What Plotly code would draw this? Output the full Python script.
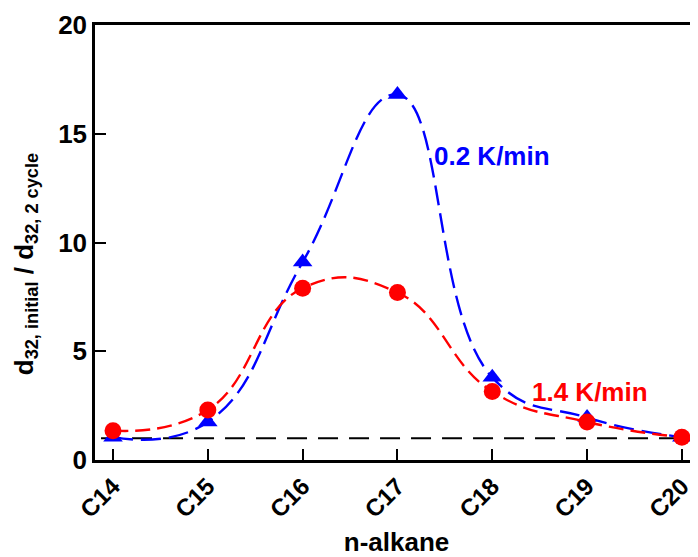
import plotly.graph_objects as go

alkanes = ["C14", "C15", "C16", "C17", "C18", "C19", "C20"]
slow_rate = [1.05, 1.75, 9.1, 16.8, 3.8, 1.95, 1.05]   # 0.2 K/min
fast_rate = [1.35, 2.3, 7.9, 7.7, 3.15, 1.75, 1.05]    # 1.4 K/min
ref_level = 1.0

FONT = "Liberation Sans, Arial, sans-serif"

fig = go.Figure()
fig.add_trace(go.Scatter(
    x=alkanes, y=slow_rate, mode="lines+markers",
    line=dict(color="#0000ff", width=2.4, dash="20px,8px", shape="spline", smoothing=1.3),
    marker=dict(symbol="triangle-up", size=17, color="#0000ff"),
    showlegend=False, cliponaxis=False))
fig.add_trace(go.Scatter(
    x=alkanes, y=fast_rate, mode="lines+markers",
    line=dict(color="#ff0000", width=2.4, dash="15px,7px", shape="spline", smoothing=1.3),
    marker=dict(symbol="circle", size=17, color="#ff0000"),
    showlegend=False, cliponaxis=False))

fig.add_shape(type="line", xref="paper", yref="y", x0=0.01, x1=1, y0=ref_level, y1=ref_level,
              line=dict(color="black", width=2, dash="20px,11px"), layer="below")

fig.add_annotation(x=4.0, y=14.0, xref="x", yref="y", text="<b>0.2 K/min</b>",
                   showarrow=False, font=dict(family=FONT, size=26, color="#0000ff"))
fig.add_annotation(x=5.03, y=3.13, xref="x", yref="y", text="<b>1.4 K/min</b>",
                   showarrow=False, font=dict(family=FONT, size=26, color="#ff0000"))

# y-axis title as a rotated annotation (sits slightly below the plot's centre)
fig.add_annotation(xref="paper", yref="paper", x=0, y=0.45, xshift=-70,
                   xanchor="center", yanchor="middle", textangle=-90, showarrow=False,
                   text="<b>d<sub>32, initial</sub> / d<sub>32, 2 cycle</sub></b>",
                   font=dict(family=FONT, size=26, color="black"))

# the page adds an 8px body margin, so the figure is sized/margined to compensate
fig.update_layout(
    width=690, height=549,
    margin=dict(l=87, r=0, t=17, b=97),
    plot_bgcolor="white", paper_bgcolor="white",
    font=dict(family=FONT, size=24, color="black"),
)
fig.update_xaxes(
    type="category", range=[-0.19, 6.17], automargin=False,
    showline=True, linecolor="black", linewidth=2.5, mirror=True,
    ticks="inside", ticklen=11, tickwidth=2, tickcolor="black",
    tickangle=-45, tickfont=dict(family=FONT, size=24, color="black"),
    tickvals=alkanes, ticktext=[f"<b>{a}</b>" for a in alkanes],
    showgrid=False, zeroline=False,
    title=dict(text="<b>n-alkane</b>", font=dict(family=FONT, size=26), standoff=18),
)
fig.update_yaxes(
    range=[0, 20], tickvals=[0, 5, 10, 15, 20], automargin=False,
    ticktext=["<b>0</b>", "<b>5</b>", "<b>10</b>", "<b>15</b>", "<b>20</b>"],
    showline=True, linecolor="black", linewidth=2.5, mirror=False,
    ticks="inside", ticklen=11, tickwidth=2, tickcolor="black",
    tickfont=dict(family=FONT, size=26, color="black"),
    showgrid=False, zeroline=False,
)

fig.write_html("out.html")
